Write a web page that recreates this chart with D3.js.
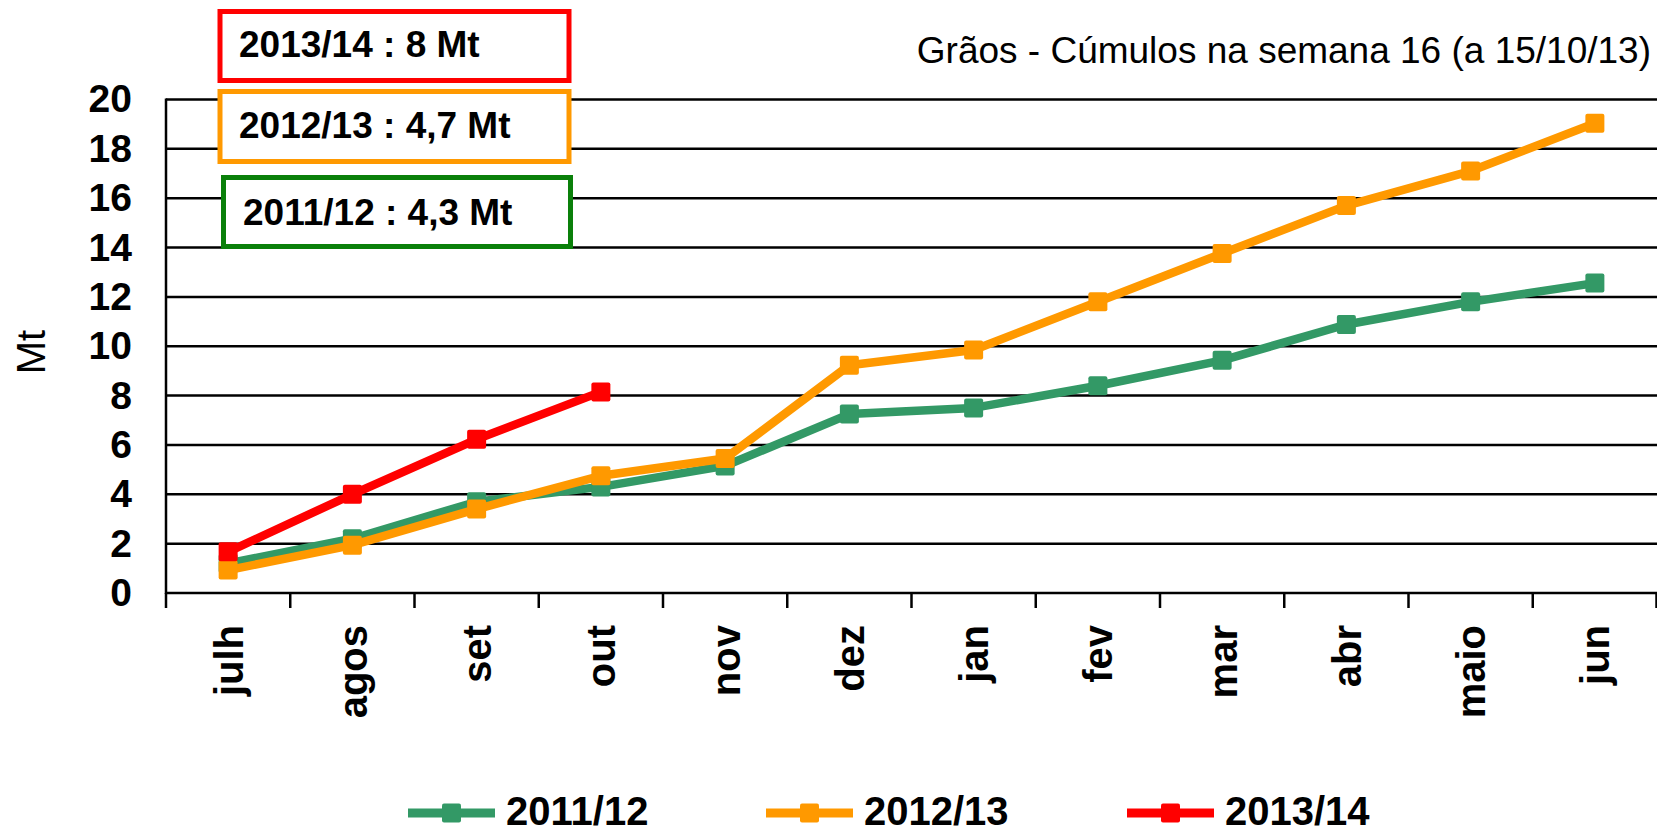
<!DOCTYPE html>
<html>
<head>
<meta charset="utf-8">
<script src="https://cdn.jsdelivr.net/npm/d3@7"></script>
<style>
  body { margin: 0; background: #fff; }
  svg { display: block; font-family: "Liberation Sans", Arial, sans-serif; }
</style>
</head>
<body>
<div id="vis1"></div>
<script>
// data
var months = ["julh", "agos", "set", "out", "nov", "dez", "jan", "fev", "mar", "abr", "maio", "jun"];
var yTicks = [0, 2, 4, 6, 8, 10, 12, 14, 16, 18, 20];
var seriesNames = ["2011/12", "2012/13", "2013/14"];
var values1112 = [1.2, 2.2, 3.7, 4.3, 5.15, 7.25, 7.5, 8.4, 9.43, 10.88, 11.8, 12.56];
var values1213 = [0.93, 1.94, 3.4, 4.75, 5.45, 9.23, 9.85, 11.8, 13.76, 15.7, 17.1, 19.04];
var values1314 = [1.67, 4.0, 6.23, 8.15];
var boxLabels = ["2013/14 : 8 Mt", "2012/13 : 4,7 Mt", "2011/12 : 4,3 Mt"];
var title = "Grãos - Cúmulos na semana 16 (a 15/10/13)";
var yLabel = "Mt";

((() => {

var W = 1657, H = 833;
var margin = {top: 99.5, right: 0, bottom: 240, left: 166};

var lineColors = ["#339966", "#ff9900", "#ff0000"];
var boxColors = ["#ff0000", "#ff9900", "#0a800a"];

var svg = d3.select('#vis1')
  .append('svg')
  .attr('width', W)
  .attr('height', H);

var x = d3.scaleBand()
  .domain(months)
  .range([margin.left, W - margin.right])
  .padding(0);

var y = d3.scaleLinear()
  .domain([0, 20])
  .range([593, margin.top]);

// horizontal gridlines
svg.append("g")
  .selectAll("line")
  .data(yTicks)
  .join("line")
    .attr("x1", margin.left)
    .attr("x2", W)
    .attr("y1", d => y(d))
    .attr("y2", d => y(d))
    .attr("stroke", "#000")
    .attr("stroke-width", 2.5);

// y axis (labels only, line drawn separately)
var yAxis = svg.append("g")
  .attr("transform", `translate(${margin.left},0)`)
  .call(d3.axisLeft(y).tickValues(yTicks).tickSize(0).tickPadding(34));
yAxis.select(".domain").remove();
yAxis.selectAll("text")
  .style("font-size", "39px")
  .style("font-weight", "bold")
  .style("font-family", "'Liberation Sans', Arial, sans-serif")
  .attr("fill", "#000");

svg.append("line")
  .attr("x1", margin.left).attr("x2", margin.left)
  .attr("y1", y(20) - 1).attr("y2", y(0) + 1)
  .attr("stroke", "#000")
  .attr("stroke-width", 2.5);

// x axis: ticks on band edges, labels rotated
var xEdges = months.map(m => x(m)).concat([W - 0.5]);
svg.append("g")
  .selectAll("line")
  .data(xEdges)
  .join("line")
    .attr("x1", d => d).attr("x2", d => d)
    .attr("y1", y(0)).attr("y2", y(0) + 15)
    .attr("stroke", "#000")
    .attr("stroke-width", 2.5);

svg.append("g")
  .selectAll("text")
  .data(months)
  .join("text")
    .attr("transform", d => `translate(${x(d) + x.bandwidth() / 2},625) rotate(-90)`)
    .attr("text-anchor", "end")
    .attr("dy", "0.36em")
    .style("font-size", "40px")
    .style("font-weight", "bold")
    .text(d => d);

// y label
svg.append("text")
  .attr("transform", "translate(45,352) rotate(-90)")
  .attr("text-anchor", "middle")
  .style("font-size", "40px")
  .text(yLabel);

// title
svg.append("text")
  .attr("x", 1651)
  .attr("y", 63)
  .attr("text-anchor", "end")
  .style("font-size", "37px")
  .text(title);

// lines + square markers
var allSeries = [values1112, values1213, values1314];
var line = d3.line()
  .x((d, i) => x(months[i]) + x.bandwidth() / 2)
  .y(d => y(d));

allSeries.forEach(function(vals, s) {
  var g = svg.append("g");
  g.append("path")
    .datum(vals)
    .attr("fill", "none")
    .attr("stroke", lineColors[s])
    .attr("stroke-width", 8.5)
    .attr("stroke-linejoin", "round")
    .attr("d", line);
  g.selectAll("rect")
    .data(vals)
    .join("rect")
      .attr("x", (d, i) => x(months[i]) + x.bandwidth() / 2 - 9.5)
      .attr("y", d => y(d) - 9.5)
      .attr("width", 19)
      .attr("height", 19)
      .attr("rx", 2)
      .attr("fill", lineColors[s]);
});

// annotation boxes
var boxes = [
  {x: 220, y: 11.5, w: 349, h: 69, tx: 239, ty: 57},
  {x: 220, y: 91.5, w: 349, h: 70, tx: 239, ty: 138},
  {x: 223.5, y: 177.5, w: 347, h: 69, tx: 243, ty: 225}
];
boxes.forEach(function(b, i) {
  svg.append("rect")
    .attr("x", b.x).attr("y", b.y)
    .attr("width", b.w).attr("height", b.h)
    .attr("fill", "#fff")
    .attr("stroke", boxColors[i])
    .attr("stroke-width", 5);
  svg.append("text")
    .attr("x", b.tx).attr("y", b.ty)
    .style("font-size", "37px")
    .style("font-weight", "bold")
    .text(boxLabels[i]);
});

// legend
var legendX = [408, 766, 1127];
seriesNames.forEach(function(name, i) {
  var lx = legendX[i];
  svg.append("line")
    .attr("x1", lx).attr("x2", lx + 87)
    .attr("y1", 813).attr("y2", 813)
    .attr("stroke", lineColors[i])
    .attr("stroke-width", 9);
  svg.append("rect")
    .attr("x", lx + 43.5 - 9.5).attr("y", 813 - 9.5)
    .attr("width", 19).attr("height", 19)
    .attr("rx", 2)
    .attr("fill", lineColors[i]);
  svg.append("text")
    .attr("x", lx + 98)
    .attr("y", 825)
    .style("font-size", "40px")
    .style("font-weight", "bold")
    .text(name);
});

})());
</script>
</body>
</html>
